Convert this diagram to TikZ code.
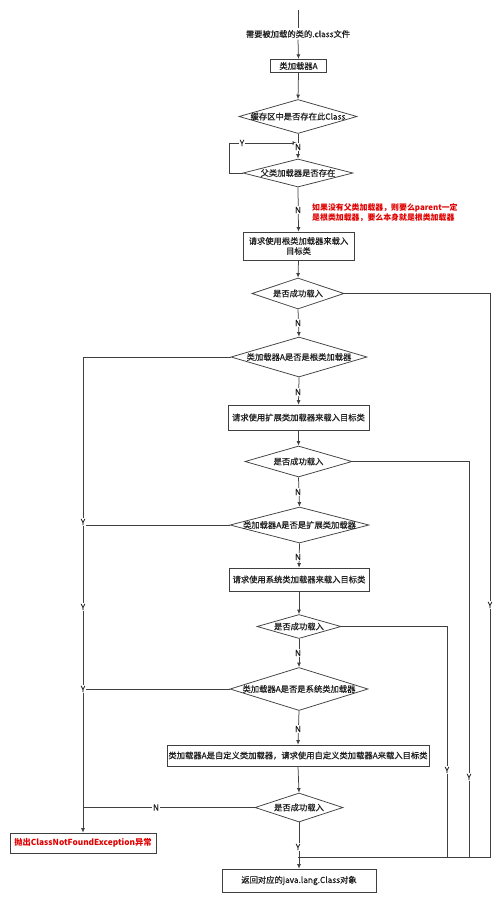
\documentclass[tikz,border=0pt]{standalone}
\usepackage{fontspec}
\setmainfont{Noto Sans CJK SC}
\newfontfamily\medfont[FakeBold=0.45]{Noto Sans CJK SC}
\usetikzlibrary{arrows.meta,shapes.geometric}
\begin{document}
\begin{tikzpicture}[x=1pt,y=-1pt,
  font=\medfont\fontsize{8.3}{10}\selectfont,
  ln/.style={draw=black!75, line width=0.75pt},
  arr/.style={ln, -{Latex[length=4.5pt,width=4pt]}},
  box/.style={draw=black!75, line width=0.75pt, rectangle, inner sep=0pt, align=center, text=black!88},
  dia/.style={draw=black!75, line width=0.75pt, diamond, inner sep=0pt},
  txt/.style={inner sep=0pt, text=black!88, align=center},
  lab/.style={fill=white, inner sep=0.8pt, text=black!88},
  note/.style={text=red!88!black, font=\fontsize{7.9}{10}\selectfont\bfseries, align=left, inner sep=0pt},
]
\fill[white] (0,0) rectangle (500,903);
\useasboundingbox (0,0) rectangle (500,903);

% nodes
\coordinate (top) at (298,10);
\node[txt, inner sep=1.5pt] (t0) at (298,34) {需要被加载的类的.class文件};
\node[box, minimum width=56pt, minimum height=13.5pt] (bA) at (298.5,66) {类加载器A};

\node[dia, minimum width=118pt, minimum height=34pt] (d1) at (298,116.5) {};
\node[txt] (d1t) at (d1) {缓存区中是否存在此Class};

\node[dia, minimum width=110pt, minimum height=28pt] (d2) at (298,173) {};
\node[txt] (d2t) at (d2) {父类加载器是否存在};

\node[note, anchor=north west] (nt) at (312,203.5) {如果没有父类加载器，则要么parent一定\\是根类加载器，要么本身就是根类加载器};

\node[box, minimum width=111pt, minimum height=28pt] (bB) at (298.5,246) {请求使用根类加载器来载入\\目标类};

\node[dia, minimum width=92pt, minimum height=31pt] (d3) at (298,293.5) {};
\node[txt] (d3t) at (d3) {是否成功载入};

\node[dia, minimum width=136pt, minimum height=40pt] (d4) at (299,357) {};
\node[txt] (d4t) at (d4) {类加载器A是否是根类加载器};

\node[box, minimum width=141pt, minimum height=25pt] (bC) at (298.5,417.5) {请求使用扩展类加载器来载入目标类};

\node[dia, minimum width=107pt, minimum height=31pt] (d5) at (298.5,461.5) {};
\node[txt] (d5t) at (d5) {是否成功载入};

\node[dia, minimum width=139pt, minimum height=36pt] (d6) at (299.5,525) {};
\node[txt] (d6t) at (d6) {类加载器A是否是扩展类加载器};

\node[box, minimum width=140pt, minimum height=23pt] (bD) at (299,579.5) {请求使用系统类加载器来载入目标类};

\node[dia, minimum width=84pt, minimum height=24pt] (d7) at (299,626.5) {};
\node[txt] (d7t) at (d7) {是否成功载入};

\node[dia, minimum width=138pt, minimum height=43pt] (d8) at (299,689) {};
\node[txt] (d8t) at (d8) {类加载器A是否是系统类加载器};

\node[box, minimum width=262pt, minimum height=21pt] (bE) at (298,755.5) {类加载器A是自定义类加载器，请求使用自定义类加载器A来载入目标类};

\node[dia, minimum width=88pt, minimum height=29pt] (d9) at (299,807.5) {};
\node[txt] (d9t) at (d9) {是否成功载入};

\node[box, minimum width=146pt, minimum height=20pt, text=red!88!black, font=\fontsize{8.3}{10}\selectfont\bfseries] (exc) at (83,843) {抛出ClassNotFoundException异常};

\node[box, minimum width=154pt, minimum height=23pt] (fin) at (299,880.5) {返回对应的java.lang.Class对象};

% coordinates
\coordinate (lpA) at (229,173);
\coordinate (lpB) at (229,143);
\coordinate (lpC) at (297,143);
\coordinate (r1) at (490,857);
\coordinate (r2) at (469,857);
\coordinate (r3) at (447,857);
\coordinate (join) at (298,857);
\coordinate (l2) at (83,525);
\coordinate (l3) at (83,689);
\coordinate (l4) at (83,807.5);

% connectors
\draw[ln] (top) -- (t0.north);
\draw[arr] (t0.south) -- (bA.north);
\draw[arr] (bA.south) -- (d1.north);
\draw[arr] (d1.south) -- (d2.north);
\draw[arr] (d2.west) -- (lpA) -- (lpB) -- (lpC);
\draw[arr] (d2.south) -- (bB.north);
\draw[arr] (bB.south) -- (d3.north);
\draw[arr] (d3.south) -- (d4.north);
\draw[arr] (d4.south) -- (bC.north);
\draw[arr] (bC.south) -- (d5.north);
\draw[arr] (d5.south) -- (d6.north);
\draw[arr] (d6.south) -- (bD.north);
\draw[arr] (bD.south) -- (d7.north);
\draw[arr] (d7.south) -- (d8.north);
\draw[arr] (d8.south) -- (bE.north);
\draw[arr] (bE.south) -- (d9.north);
\draw[arr] (d9.south) -- (fin.north);

\draw[ln] (d3.east) -| (r1) -- (join);
\draw[ln] (d5.east) -| (r2) -- (join);
\draw[ln] (d7.east) -| (r3) -- (join);

\draw[arr] (d4.west) -| (exc.north);
\draw[ln] (d6.west) -- (l2);
\draw[ln] (d8.west) -- (l3);
\draw[ln] (d9.west) -- (l4);

% labels
\node[lab] (yL0) at (242,143) {Y};
\node[lab] (nA) at (298,147) {N};
\node[lab] (nB) at (298,210) {N};
\node[lab] (nC) at (298,323) {N};
\node[lab] (nD) at (298,392) {N};
\node[lab] (nE) at (298,492) {N};
\node[lab] (nF) at (298,557) {N};
\node[lab] (nG) at (298,653) {N};
\node[lab] (nH) at (298,729) {N};
\node[lab] (yB) at (298,847) {Y};
\node[lab] (nI) at (156,807.5) {N};
\node[lab] (yL1) at (83,522) {Y};
\node[lab] (yL2) at (83,607) {Y};
\node[lab] (yL3) at (83,689) {Y};
\node[lab] (yR1) at (490,605) {Y};
\node[lab] (yR2) at (469,777) {Y};
\node[lab] (yR3) at (447,770) {Y};
\end{tikzpicture}
\end{document}
